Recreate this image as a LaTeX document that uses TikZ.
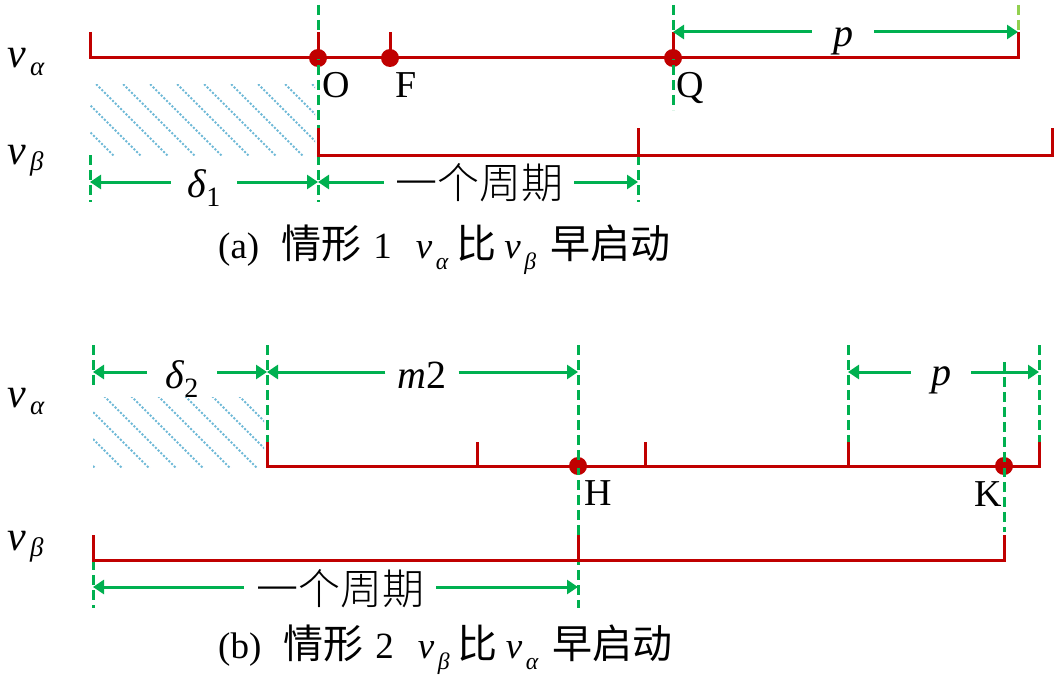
\documentclass[tikz,border=0pt]{standalone}
\usepackage{fontspec}
\setmainfont{Liberation Serif}
\newfontfamily\cjk{Noto Sans CJK SC}
\newfontfamily\cjkl{Noto Sans CJK SC Light}
\usetikzlibrary{arrows.meta,calc}
\definecolor{myred}{RGB}{192,0,0}
\definecolor{mygreen}{RGB}{0,176,80}
\definecolor{lightgreen}{RGB}{146,208,80}
\definecolor{hatchblue}{RGB}{110,185,215}
\newcommand\vv[2]{\textit{v}\kern0.1em\raisebox{#2}{\scalebox{0.64}{\itshape #1}}}
\newcommand\capcn[1]{{\cjk\fontsize{40}{40}\selectfont #1}}
\begin{document}
\begin{tikzpicture}[x=1pt,y=-1pt,
  sig/.style={myred, line width=3pt},
  guide/.style={mygreen, line width=3pt, dash pattern=on 10pt off 5pt},
  dimarr/.style={mygreen, line width=3pt, -{Triangle[length=11pt,width=14pt]}},
  pt/.style={circle, fill=myred, inner sep=0pt, minimum size=18pt},
  ptlbl/.style={font=\fontsize{38}{40}\selectfont, inner sep=0pt, anchor=base},
  sidelbl/.style={font=\fontsize{42}{44}\selectfont, inner sep=0pt, anchor=base west},
  dimlbl/.style={font=\fontsize{40}{42}\selectfont, inner ysep=0pt, anchor=base},
  cnlbl/.style={font=\cjkl\fontsize{42}{44}\selectfont, inner ysep=0pt, anchor=base},
  captxt/.style={font=\fontsize{37}{40}\selectfont, inner sep=0pt, anchor=base west},
  hatch/.style={hatchblue, line width=2pt, dash pattern=on 2pt off 1.8pt},
]
\fill[white] (0,0) rectangle (1058,685);
\useasboundingbox (0,0) rectangle (1058,685);

% ---------------- panel (a) ----------------
\begin{scope}
\clip (90,85) rectangle (315,155);
\foreach \k in {-3,...,9} \draw[hatch] (72+27*\k,60) -- ++(130,130);
\end{scope}

\coordinate (O) at (318,58);
\coordinate (F) at (390,58);
\coordinate (Q) at (673,58);
\coordinate (aS) at (90,58);
\coordinate (aE) at (1018,58);
\coordinate (bS) at (318,155);
\coordinate (bM) at (638,155);
\coordinate (bE) at (1052,155);

\node[pt] (nO) at (O) {};
\node[pt] (nF) at (F) {};
\node[pt] (nQ) at (Q) {};

\draw[guide] (318,5) -- (318,202);
\draw[guide] (90,155) -- (90,202);
\draw[guide] (638,155) -- (638,202);
\draw[guide] (673,5) -- (673,110);
\draw[guide, lightgreen] (1018,5) -- (1018,32);

\draw[sig] (aS |- 0,32) -- (aS) -- (aE) -- (aE |- 0,32);
\draw[sig] (O) -- ++(0,-26);
\draw[sig] (F) -- ++(0,-26);
\draw[sig] (Q) -- ++(0,-26);
\draw[sig] (bS |- 0,128) -- (bS) -- (bE) -- (bE |- 0,128);
\draw[sig] (bM) -- ++(0,-27);

\node[sidelbl] (va1) at (7,68) {\vv{α}{-0.18em}};
\node[sidelbl] (vb1) at (7,164) {\vv{β}{-0.15em}};

\node[ptlbl] (lO) at (336,98) {O};
\node[ptlbl] (lF) at (406,98) {F};
\node[ptlbl] (lQ) at (690,98) {Q};

\coordinate (d1L) at (90,182);
\coordinate (d1R) at (318,182);
\coordinate (c1R) at (638,182);
\coordinate (p1L) at (673,32);
\coordinate (p1R) at (1018,32);

\node[dimlbl, inner xsep=16pt] (ld1) at (204,197) {\textit{δ}\textsubscript{1}};
\draw[dimarr] (ld1.west |- d1L) -- (d1L);
\draw[dimarr] (ld1.east |- d1R) -- (d1R);

\node[cnlbl, inner xsep=11pt] (lc1) at (479,198) {一个周期};
\draw[dimarr] (lc1.west |- d1R) -- (d1R);
\draw[dimarr] (lc1.east |- c1R) -- (c1R);

\node[dimlbl, inner xsep=21pt] (lp1) at (843,47) {\textit{p}};
\draw[dimarr] (lp1.west |- p1L) -- (p1L);
\draw[dimarr] (lp1.east |- p1R) -- (p1R);

\node[captxt] (capa) at (218,258) {(a)\hspace{22pt}\capcn{情形}\hspace{12pt}1\hspace{24pt}\vv{α}{-0.32em}\hspace{8pt}\capcn{比}\hspace{8pt}\vv{β}{-0.32em}\hspace{14pt}\capcn{早启动}};

% ---------------- panel (b) ----------------
\begin{scope}
\clip (93,397) rectangle (264,467);
\foreach \k in {-4,...,6} \draw[hatch] (88+27*\k,380) -- ++(100,100);
\end{scope}

\coordinate (H) at (578,466);
\coordinate (K) at (1004,466);
\coordinate (a2S) at (267,466);
\coordinate (a2E) at (1039,466);
\coordinate (t1) at (477,466);
\coordinate (t2) at (645,466);
\coordinate (t3) at (848,466);
\coordinate (b2S) at (93,560);
\coordinate (b2M) at (578,560);
\coordinate (b2E) at (1004,560);

\node[pt] (nH) at (H) {};
\node[pt] (nK) at (K) {};

\draw[guide] (93,345) -- (93,385);
\draw[guide] (93,560) -- (93,608);
\draw[guide] (267,345) -- (267,442);
\draw[guide] (578,345) -- (578,608);
\draw[guide] (848,345) -- (848,442);
\draw[guide] (1039,345) -- (1039,442);
\draw[guide] (1004,362) -- (1004,532);

\draw[sig] (a2S |- 0,442) -- (a2S) -- (a2E) -- (a2E |- 0,442);
\draw[sig] (t1) -- ++(0,-24);
\draw[sig] (t2) -- ++(0,-24);
\draw[sig] (t3) -- ++(0,-24);
\draw[sig] (b2S |- 0,535) -- (b2S) -- (b2E) -- (b2E |- 0,535);
\draw[sig] (b2M) -- ++(0,-25);

\node[sidelbl] (va2) at (7,407) {\vv{α}{-0.18em}};
\node[sidelbl] (vb2) at (7,550) {\vv{β}{-0.15em}};

\node[ptlbl] (lH) at (598,505) {H};
\node[ptlbl] (lK) at (988,506) {K};

\coordinate (d2L) at (93,372);
\coordinate (d2R) at (267,372);
\coordinate (m2R) at (578,372);
\coordinate (p2L) at (848,372);
\coordinate (p2R) at (1039,372);
\coordinate (c2L) at (93,587);
\coordinate (c2R) at (578,587);

\node[dimlbl, inner xsep=18pt] (ld2) at (182,388) {\textit{δ}\textsubscript{2}};
\draw[dimarr] (ld2.west |- d2L) -- (d2L);
\draw[dimarr] (ld2.east |- d2R) -- (d2R);

\node[dimlbl, inner xsep=12pt] (lm2) at (422,388) {\textit{m}2};
\draw[dimarr] (lm2.west |- d2R) -- (d2R);
\draw[dimarr] (lm2.east |- m2R) -- (m2R);

\node[dimlbl, inner xsep=20pt] (lp2) at (941,385) {\textit{p}};
\draw[dimarr] (lp2.west |- p2L) -- (p2L);
\draw[dimarr] (lp2.east |- p2R) -- (p2R);

\node[cnlbl, inner xsep=12pt] (lc2) at (340,604) {一个周期};
\draw[dimarr] (lc2.west |- c2L) -- (c2L);
\draw[dimarr] (lc2.east |- c2R) -- (c2R);

\node[captxt] (capb) at (218,658) {(b)\hspace{22pt}\capcn{情形}\hspace{12pt}2\hspace{24pt}\vv{β}{-0.32em}\hspace{8pt}\capcn{比}\hspace{8pt}\vv{α}{-0.32em}\hspace{14pt}\capcn{早启动}};
\end{tikzpicture}
\end{document}
